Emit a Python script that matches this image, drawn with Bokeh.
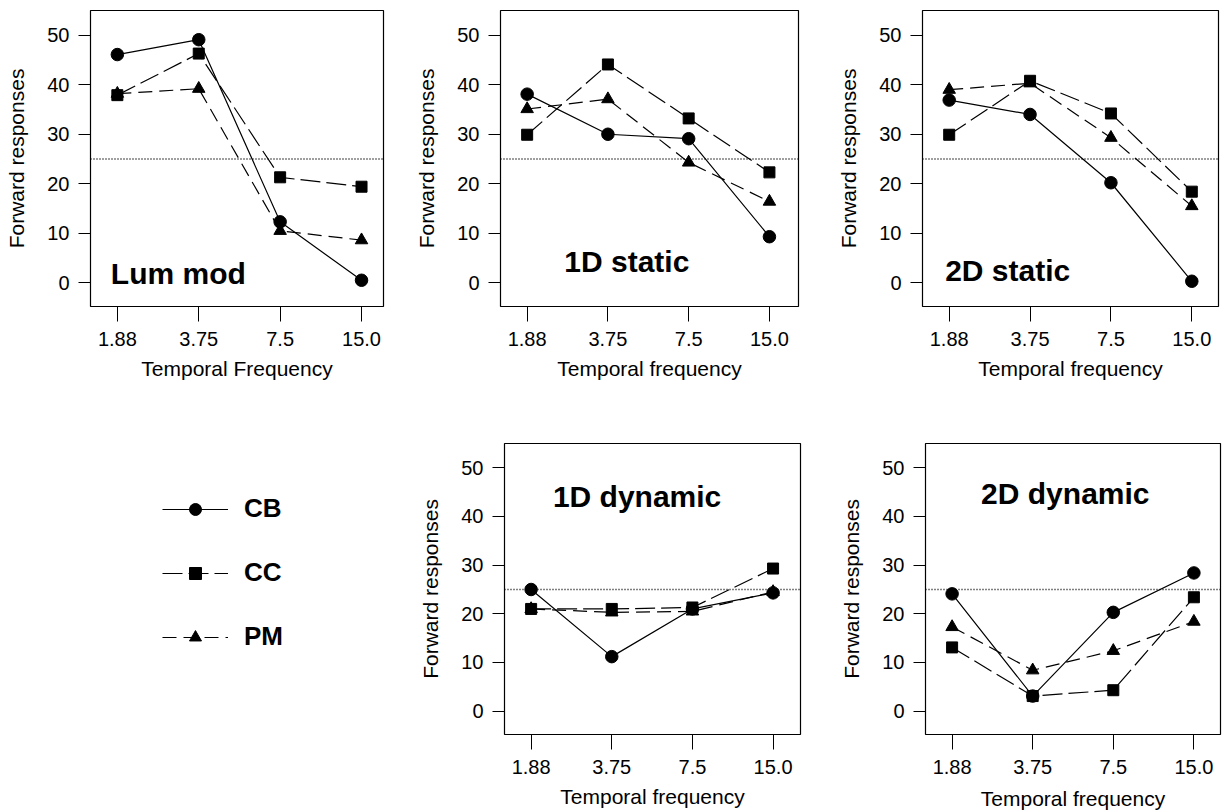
from bokeh.plotting import figure
from bokeh.layouts import row, column
from bokeh.models import (Range1d, FixedTicker, Span, Label, Legend, LegendItem,
                          ColumnDataSource)
from bokeh.embed import file_html
from bokeh.resources import INLINE

# ---------------- data ----------------
freq_labels = ["1.88", "3.75", "7.5", "15.0"]
x_pos = list(range(1, len(freq_labels) + 1))
y_ticks = [0, 10, 20, 30, 40, 50]
CHANCE = 25
series_names = ["CB", "CC", "PM"]

lum_cb = [46.1, 49.1, 12.3, 0.5]
lum_cc = [37.9, 46.3, 21.3, 19.4]
lum_pm = [38.2, 39.2, 10.5, 8.6]

s1_cb = [38.1, 30.0, 29.1, 9.3]
s1_cc = [29.9, 44.1, 33.2, 22.3]
s1_pm = [35.1, 37.1, 24.3, 16.4]

s2_cb = [36.9, 34.0, 20.2, 0.3]
s2_cc = [29.9, 40.8, 34.2, 18.4]
s2_pm = [39.0, 40.3, 29.3, 15.5]

d1_cb = [25.0, 11.2, 21.0, 24.3]
d1_cc = [21.0, 21.0, 21.3, 29.3]
d1_pm = [21.0, 20.3, 20.5, 24.5]

d2_cb = [24.1, 3.1, 20.3, 28.4]
d2_cc = [13.1, 3.1, 4.3, 23.4]
d2_pm = [17.3, 8.4, 12.4, 18.4]

# ---------------- styles ----------------
FONT = "Liberation Sans"
STYLES = [("solid", "circle", 12.5), ("20 6", "square", 11), ("14 7", "triangle", 12.5)]


def make_panel(w, h, bl, br, bt, bb, x_end, values, name, lx, ly, xtitle, xstd):
    p = figure(width=w, height=h, x_range=Range1d(0.67, x_end), y_range=Range1d(-4.8, 55),
               output_backend="svg", toolbar_location=None,
               min_border_left=bl, min_border_right=br, min_border_top=bt, min_border_bottom=bb,
               background_fill_color="white", border_fill_color="white")
    p.grid.visible = False
    p.outline_line_color = "black"
    p.outline_line_width = 1.2
    p.add_layout(Span(location=CHANCE, dimension="width", line_dash="1 2",
                      line_color="black", line_width=1.3))
    for vals, (dash, marker, size) in zip(values, STYLES):
        p.line(x_pos, vals, line_color="black", line_width=1.2, line_dash=dash)
        p.scatter(x_pos, vals, marker=marker, size=size, fill_color="black", line_color="black")

    p.xaxis.ticker = FixedTicker(ticks=x_pos)
    p.xaxis.major_label_overrides = {x: l for x, l in zip(x_pos, freq_labels)}
    p.yaxis.ticker = FixedTicker(ticks=y_ticks)
    p.axis.axis_line_color = None
    p.axis.major_tick_in = 0
    p.axis.minor_tick_line_color = None
    p.axis.major_tick_line_color = "black"
    p.axis.major_tick_line_width = 1
    p.xaxis.major_tick_out = 15
    p.yaxis.major_tick_out = 12
    p.axis.major_label_text_font = FONT
    p.axis.major_label_text_font_size = "20px"
    p.axis.major_label_text_color = "black"
    p.xaxis.major_label_standoff = 10
    p.yaxis.major_label_standoff = 9
    p.axis.axis_label_text_font = FONT
    p.axis.axis_label_text_font_size = "21px"
    p.axis.axis_label_text_font_style = "normal"
    p.axis.axis_label_text_color = "black"
    p.xaxis.axis_label = xtitle
    p.yaxis.axis_label = "Forward responses"
    p.xaxis.axis_label_standoff = xstd
    p.yaxis.axis_label_standoff = 16

    p.add_layout(Label(x=lx, y=ly, text=name, text_font=FONT, text_font_style="bold",
                       text_font_size="30px", text_baseline="alphabetic", text_color="black"))
    return p


p1 = make_panel(400, 420, 90, 17, 10, 114, 4.27, [lum_cb, lum_cc, lum_pm], "Lum mod",
                0.92, 1.8, "Temporal Frequency", 8)
p2 = make_panel(420, 420, 100, 22, 10, 114, 4.36, [s1_cb, s1_cc, s1_pm], "1D static",
                1.46, 4.2, "Temporal frequency", 8)
p3 = make_panel(402, 420, 102, 4, 10, 114, 4.33, [s2_cb, s2_cc, s2_pm], "2D static",
                0.95, 2.4, "Temporal frequency", 8)
p4 = make_panel(420, 392, 104, 20, 23, 76, 4.34, [d1_cb, d1_cc, d1_pm], "1D dynamic",
                1.27, 44.1, "Temporal frequency", 8)
p5 = make_panel(402, 392, 105, 2, 23, 76, 4.33, [d2_cb, d2_cc, d2_pm], "2D dynamic",
                1.36, 44.7, "Temporal frequency", 10)

# ---------------- legend panel ----------------
pl = figure(width=400, height=392, x_range=Range1d(0, 1), y_range=Range1d(0, 1),
            output_backend="svg", toolbar_location=None,
            x_axis_location=None, y_axis_location=None,
            min_border_left=0, min_border_right=0, min_border_top=23, min_border_bottom=76)
pl.grid.visible = False
pl.outline_line_color = None
dummy = ColumnDataSource(dict(x=[float("nan")], y=[float("nan")]))
items = []
for nm, (dash, marker, size) in zip(series_names, STYLES):
    lr = pl.line("x", "y", source=dummy, line_color="black", line_width=1.2, line_dash=dash)
    sr = pl.scatter("x", "y", source=dummy, marker=marker, size=size,
                    fill_color="black", line_color="black")
    items.append(LegendItem(label=nm, renderers=[lr, sr]))
legend = Legend(items=items, location=(162, 82), padding=0, margin=0,
                border_line_color=None, background_fill_alpha=0,
                glyph_width=66, glyph_height=30, label_height=30, label_standoff=16,
                spacing=33, label_text_font=FONT, label_text_font_style="bold",
                label_text_font_size="26px", label_text_color="black")
pl.add_layout(legend)

layout = column(row(p1, p2, p3), row(pl, p4, p5))
open("out.html", "w").write(file_html(layout, INLINE))
